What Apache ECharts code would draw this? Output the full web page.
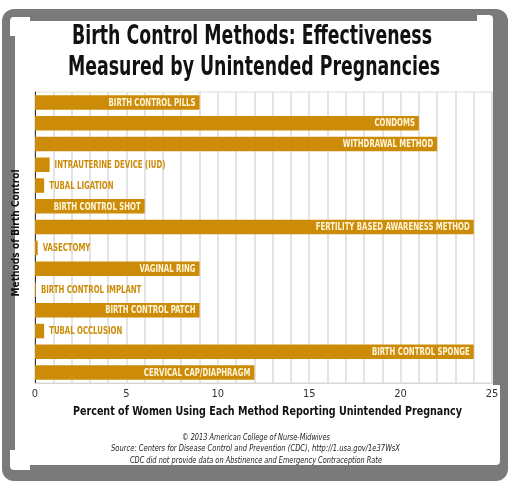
<!DOCTYPE html>
<html><head><meta charset="utf-8">
<script src="https://cdn.jsdelivr.net/npm/echarts@6/dist/echarts.min.js"></script>
<style>html,body{margin:0;padding:0;background:#fff;}#c{width:512px;height:485px;}</style>
</head><body><div id="c"></div>
<script>
const categories = ['BIRTH CONTROL PILLS','CONDOMS','WITHDRAWAL METHOD','INTRAUTERINE DEVICE (IUD)','TUBAL LIGATION','BIRTH CONTROL SHOT','FERTILITY BASED AWARENESS METHOD','VASECTOMY','VAGINAL RING','BIRTH CONTROL IMPLANT','BIRTH CONTROL PATCH','TUBAL OCCLUSION','BIRTH CONTROL SPONGE','CERVICAL CAP/DIAPHRAGM'];
const values = [9, 21, 22, 0.8, 0.5, 6, 24, 0.15, 9, 0.05, 9, 0.5, 24, 12];
const xTicks = [0, 5, 10, 15, 20, 25];
const titleLines = ['Birth Control Methods: Effectiveness', 'Measured by Unintended Pregnancies'];
const xAxisTitle = 'Percent of Women Using Each Method Reporting Unintended Pregnancy';
const yAxisTitle = 'Methods of Birth Control';
const footnotes = ['© 2013 American College of Nurse-Midwives', 'Source: Centers for Disease Control and Prevention (CDC), http://1.usa.gov/1e37WsX', 'CDC did not provide data on Abstinence and Emergency Contraception Rate'];

const COND = '"Liberation Sans Narrow", "DejaVu Sans Condensed", "Liberation Sans", Arial, sans-serif';
const GOLD = '#cc8c08';
const CREAM = '#fff6dc';
const mctx = document.createElement('canvas').getContext('2d');
function measure(text, font) { mctx.font = font; return mctx.measureText(text).width || 1; }
function fitText(text, font, targetW, x, y, extra) {
  return Object.assign({
    type: 'text', x: x, y: y, z: 100, scaleX: targetW / measure(text, font),
    style: { text: text, x: 0, y: 0, font: font, fill: '#111', textAlign: 'center', textVerticalAlign: 'middle' }
  }, extra || {});
}

const frame = [
  { type: 'rect', z: -10, shape: { x: 2, y: 9, width: 506, height: 472, r: 12 }, style: { fill: '#7a7a7a' } },
  { type: 'rect', z: -9, shape: { x: 15, y: 21, width: 478, height: 444 }, style: { fill: '#fff' } },
  { type: 'rect', z: -9, shape: { x: 10, y: 17, width: 20, height: 19, r: [4, 0, 0, 0] }, style: { fill: '#fff' } },
  { type: 'rect', z: -9, shape: { x: 477, y: 15, width: 16, height: 10, r: [0, 4, 0, 0] }, style: { fill: '#fff' } },
  { type: 'rect', z: -9, shape: { x: 10, y: 450, width: 20, height: 20, r: [0, 0, 0, 4] }, style: { fill: '#fff' } },
  { type: 'rect', z: -9, shape: { x: 478, y: 385, width: 22, height: 80, r: [0, 0, 4, 0] }, style: { fill: '#fff' } }
];

const texts = [
  fitText(titleLines[0], 'bold 26px ' + COND, 360, 252, 37.5),
  fitText(titleLines[1], 'bold 26px ' + COND, 372, 254, 68.5),
  fitText(xAxisTitle, 'bold 13px ' + COND, 389, 267.5, 412),
  fitText(yAxisTitle, 'bold 11px ' + COND, 127, 16, 233, { rotation: Math.PI / 2 }),
  fitText(footnotes[0], 'italic 9px ' + COND, 148, 256, 437.5),
  fitText(footnotes[1], 'italic 9px ' + COND, 289, 255.5, 449),
  fitText(footnotes[2], 'italic 9px ' + COND, 252, 256, 460.5)
];
texts.forEach(function (t, i) { if (i >= 4) t.style.fill = '#222'; });

const LABEL_FONT = 'bold 10.5px ' + COND;
const LABEL_SCALE = 87 / measure(categories[0], LABEL_FONT);
const BAR_H = 14.5;

function renderBar(params, api) {
  const v = api.value(0);
  const idx = api.value(1);
  const p0 = api.coord([0, idx]);
  const p1 = api.coord([v, idx]);
  const inside = v >= 5;
  const name = categories[idx];
  return {
    type: 'group',
    children: [
      { type: 'rect', shape: { x: p0[0], y: p0[1] - BAR_H / 2, width: p1[0] - p0[0], height: BAR_H }, style: { fill: GOLD } },
      {
        type: 'text', x: inside ? p1[0] - 4 : p1[0] + 5, y: p0[1] + 0.5, scaleX: LABEL_SCALE,
        style: {
          text: name, x: 0, y: 0, font: LABEL_FONT, fill: inside ? CREAM : GOLD,
          textAlign: inside ? 'right' : 'left', textVerticalAlign: 'middle'
        }
      }
    ]
  };
}

const chart = echarts.init(document.getElementById('c'), null, { renderer: 'canvas' });
chart.setOption({
  animation: false,
  backgroundColor: '#fff',
  graphic: { elements: frame.concat(texts) },
  grid: { left: 35, right: 20, top: 92, bottom: 102, show: true, borderColor: '#dcdcdc', borderWidth: 1 },
  xAxis: {
    type: 'value', min: 0, max: 25, interval: 5,
    axisLine: { show: true, lineStyle: { color: '#d6d6d6', width: 1 } },
    axisTick: { show: false },
    axisLabel: {
      color: '#333', fontSize: 11, margin: 6, fontFamily: COND,
      formatter: function (v) { return xTicks.indexOf(v) >= 0 ? String(v) : ''; }
    },
    splitLine: { show: true, lineStyle: { color: '#dcdcdc', width: 1.5 } },
    minorTick: { show: false, splitNumber: 5 },
    minorSplitLine: { show: true, lineStyle: { color: '#dcdcdc', width: 1.5 } }
  },
  yAxis: {
    type: 'category', data: categories, inverse: true,
    axisLine: { show: true, lineStyle: { color: '#333', width: 1 } },
    axisTick: { show: false }, axisLabel: { show: false }, splitLine: { show: false }
  },
  series: [{
    type: 'custom', renderItem: renderBar, clip: false,
    encode: { x: 0, y: 1 },
    data: values.map(function (v, i) { return [v, i]; })
  }]
});
</script></body></html>
